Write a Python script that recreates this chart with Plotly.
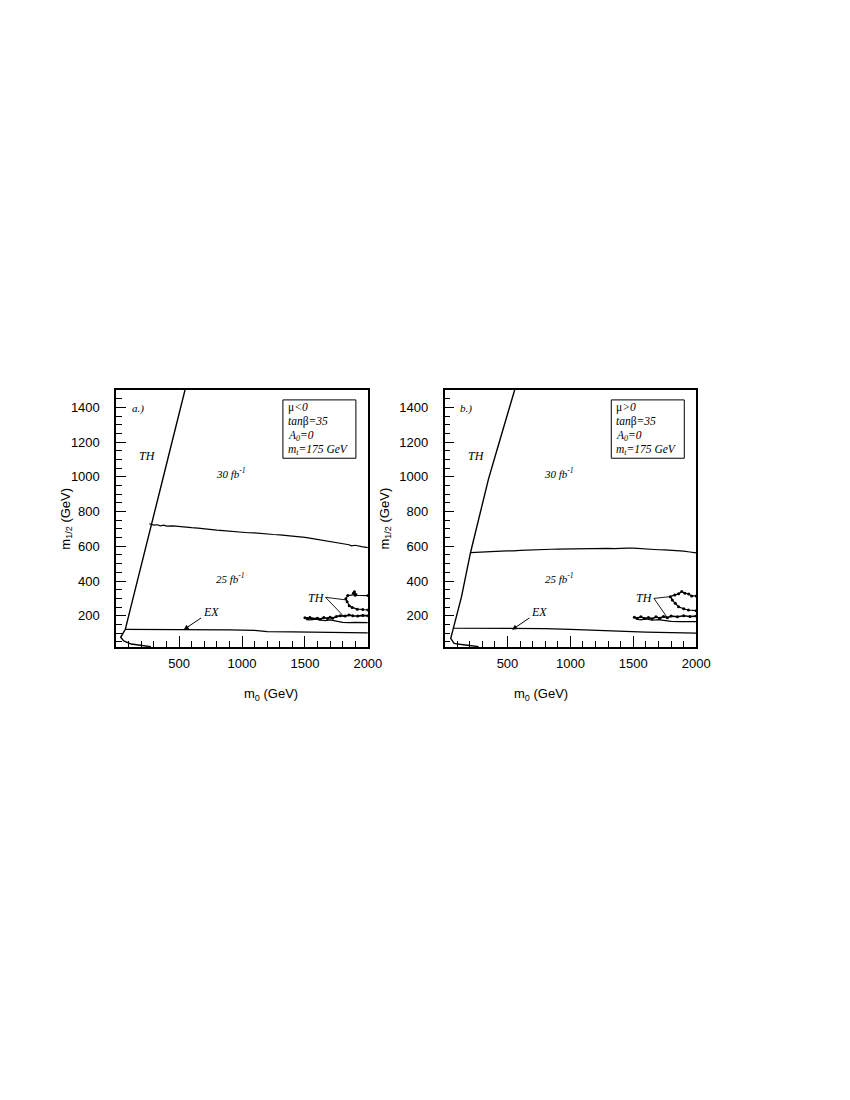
import plotly.graph_objects as go

# ---- panel a.) mu<0 ----
a_th_m0 = [276, 200, 120, 60, 36, 55, 73, 120, 180, 234, 292, 351, 423, 485, 547]
a_th_m12 = [22, 28, 37, 55, 76, 100, 122, 260, 430, 590, 760, 930, 1140, 1320, 1500]
a_ex_m0 = [73, 300, 600, 900, 1100, 1200, 1400, 1600, 1800, 2000]
a_ex_m12 = [122, 122, 121, 119, 116, 109, 107, 105, 103, 101]
a_lum_m0 = [263, 300, 330, 350, 380, 400, 450, 500, 550, 600, 650, 700, 750, 800, 850, 900,
            950, 1000, 1050, 1100, 1150, 1200, 1250, 1300, 1350, 1400, 1450, 1500, 1550,
            1600, 1650, 1700, 1750, 1800, 1850, 1870, 1900, 1950, 2000]
a_lum_m12 = [730, 722, 724, 718, 722, 716, 718, 713, 712, 707, 705, 700, 697, 693, 690, 686,
             683, 680, 678, 677, 673, 672, 668, 666, 663, 660, 656, 651, 646, 640, 634, 628,
             621, 614, 609, 603, 606, 598, 592]
a_up_m0 = [2000, 1900, 1885, 1893, 1905, 1840, 1825, 1835, 1852, 1875, 1916, 1960, 2000]
a_up_m12 = [316, 318, 330, 338, 322, 316, 298, 281, 258, 248, 238, 236, 233]
a_lo1_m0 = [1500, 1520, 1540, 1560, 1600, 1620, 1650, 1680, 1700, 1720, 1750, 1780, 1820,
            1850, 1880, 1920, 1960, 2000]
a_lo1_m12 = [188, 184, 190, 182, 186, 180, 190, 184, 192, 186, 196, 200, 198, 204, 200, 198,
             202, 200]
a_lo2_m0 = [1510, 1540, 1580, 1620, 1660, 1700, 1740, 1780, 1800, 1850, 1900, 2000]
a_lo2_m12 = [178, 176, 180, 174, 172, 176, 170, 168, 162, 160, 162, 160]
a_ptr_m0 = [1828, 1664, 1813]
a_ptr_m12 = [291, 306, 193]

# ---- panel b.) mu>0 ----
b_th_m0 = [271, 200, 120, 76, 49, 60, 70, 135, 206, 349, 427, 505, 557]
b_th_m12 = [22, 27, 36, 41, 70, 100, 128, 310, 563, 987, 1180, 1366, 1500]
b_ex_m0 = [70, 300, 600, 800, 1000, 1200, 1400, 1600, 1800, 2000]
b_ex_m12 = [128, 128, 127, 126, 122, 116, 110, 106, 103, 100]
b_lum_m0 = [206, 250, 300, 350, 400, 450, 500, 550, 600, 650, 700, 750, 800, 850, 900, 950,
            1000, 1050, 1100, 1150, 1200, 1250, 1300, 1350, 1400, 1450, 1500, 1550, 1600,
            1650, 1700, 1750, 1800, 1850, 1900, 1950, 2000]
b_lum_m12 = [563, 564, 566, 568, 570, 572, 574, 573, 577, 579, 578, 581, 582, 583, 584, 585,
             585, 586, 587, 588, 590, 588, 588, 587, 586, 589, 589, 586, 585, 583, 580, 579,
             578, 575, 572, 567, 562]
b_up_m0 = [2000, 1963, 1940, 1910, 1885, 1860, 1830, 1794, 1810, 1833, 1859, 1900, 1938, 2000]
b_up_m12 = [314, 314, 325, 330, 339, 326, 320, 310, 290, 272, 252, 240, 233, 229]
b_lo1_m0 = [1508, 1530, 1560, 1590, 1620, 1650, 1680, 1710, 1740, 1770, 1800, 1850, 1900,
            1950, 2000]
b_lo1_m12 = [192, 186, 194, 184, 190, 182, 194, 186, 196, 188, 198, 194, 200, 196, 198]
b_lo2_m0 = [1520, 1560, 1600, 1650, 1700, 1760, 1800, 1870, 1920, 2000]
b_lo2_m12 = [180, 176, 182, 174, 178, 172, 168, 166, 166, 166]
b_ptr_m0 = [1794, 1664, 1768]
b_ptr_m12 = [310, 300, 191]

x_ticks = [500, 1000, 1500, 2000]
y_ticks = [200, 400, 600, 800, 1000, 1200, 1400]

serif = "Liberation Serif"
sans = "Liberation Sans"

fig = go.Figure()

def line(x, y, ax, width=1.2, markers=False):
    fig.add_trace(go.Scatter(
        x=x, y=y, xaxis="x" + ax, yaxis="y" + ax,
        mode="lines+markers" if markers else "lines",
        line=dict(color="black", width=width),
        marker=dict(color="black", size=3),
        showlegend=False, hoverinfo="skip"))

panels = [
    ("", a_th_m0, a_th_m12, a_ex_m0, a_ex_m12, a_lum_m0, a_lum_m12, a_up_m0, a_up_m12,
     a_lo1_m0, a_lo1_m12, a_lo2_m0, a_lo2_m12, a_ptr_m0, a_ptr_m12, "a.)", "&lt;"),
    ("2", b_th_m0, b_th_m12, b_ex_m0, b_ex_m12, b_lum_m0, b_lum_m12, b_up_m0, b_up_m12,
     b_lo1_m0, b_lo1_m12, b_lo2_m0, b_lo2_m12, b_ptr_m0, b_ptr_m12, "b.)", "&gt;"),
]

annotations = []
shapes = []
for (ax, th_x, th_y, ex_x, ex_y, lum_x, lum_y, up_x, up_y, l1x, l1y, l2x, l2y,
     px, py, tag, sign) in panels:
    line(th_x, th_y, ax, 1.4)
    line(ex_x, ex_y, ax)
    line(lum_x, lum_y, ax)
    line(up_x, up_y, ax, 1.2, markers=True)
    line(l1x, l1y, ax, 1.6, markers=True)
    line(l2x, l2y, ax, 1.2)
    line(px, py, ax, 0.9)

    xr, yr = "x" + ax, "y" + ax
    def txt(x, y, t, size=12, xanchor="center"):
        annotations.append(dict(x=x, y=y, xref=xr, yref=yr, text=t, showarrow=False,
                                xanchor=xanchor, font=dict(family=serif, size=size, color="black")))
    txt(172, 1395, "<i>%s</i>" % tag, 11)
    txt(250, 1120, "<i>TH</i>", 12)
    txt(910, 1020, "<i>30 fb<sup>-1</sup></i>", 11)
    txt(910, 420, "<i>25 fb<sup>-1</sup></i>", 11)
    txt(1590, 302, "<i>TH</i>", 12)
    annotations.append(dict(x=537, y=120, xref=xr, yref=yr, ax=750, ay=224, axref=xr, ayref=yr,
                            text="<i>EX</i>", showarrow=True, arrowhead=2, arrowsize=1,
                            arrowwidth=1, arrowcolor="black",
                            font=dict(family=serif, size=12, color="black")))
    # parameter box
    shapes.append(dict(type="rect", xref=xr, yref=yr, x0=1325, x1=1905, y0=1107, y1=1443,
                       line=dict(color="black", width=1)))
    box_lines = ["μ<i>%s0</i>" % sign, "<i>tan</i>β<i>=35</i>", "<i>A<sub>0</sub>=0</i>",
                 "<i>m<sub>t</sub>=175 GeV</i>"]
    for t, yy in zip(box_lines, [1402, 1321, 1238, 1155]):
        txt(1350, yy, t, 11.5, xanchor="left")

axis_common = dict(showline=True, linecolor="black", linewidth=1.5, mirror=True,
                   ticks="inside", tickcolor="black", tickwidth=1.2, showgrid=False,
                   zeroline=False, tickfont=dict(family=sans, size=13, color="black"))
x_common = dict(axis_common, range=[0, 2000], tickvals=x_ticks, ticklen=11,
                ticklabelstandoff=4,
                minor=dict(dtick=100, tick0=0, ticklen=6, ticks="inside", tickcolor="black",
                           tickwidth=1.2, showgrid=False))
y_common = dict(axis_common, range=[20, 1500], tickvals=y_ticks, ticklen=10,
                ticklabelstandoff=12,
                minor=dict(dtick=50, tick0=0, ticklen=6, ticks="inside", tickcolor="black",
                           tickwidth=1.2, showgrid=False))

# page has an 8px body margin: figure is shrunk so it fits and positions are page px - 8
OFF = 8
W, H = 850 - 2 * OFF, 1100 - 2 * OFF

def fx(p):
    return (p - OFF) / W

def fy(p):
    return 1 - (p - OFF) / H

y_dom = [fy(647), fy(390)]
fig.update_layout(
    width=W, height=H, margin=dict(l=0, r=0, t=0, b=0),
    paper_bgcolor="white", plot_bgcolor="white",
    xaxis=dict(x_common, domain=[fx(118), fx(374)], anchor="y"),
    yaxis=dict(y_common, domain=y_dom, anchor="x"),
    xaxis2=dict(x_common, domain=[fx(452), fx(708)], anchor="y2"),
    yaxis2=dict(y_common, domain=y_dom, anchor="x2"),
    shapes=shapes,
)

# axis titles
for cx, ylab_x in [(246, 56), (580, 391)]:
    annotations.append(dict(x=fx(cx), y=fy(694), xref="paper", yref="paper",
                            text="m<sub>0</sub> (GeV)", showarrow=False,
                            font=dict(family=sans, size=13, color="black")))
    annotations.append(dict(x=fx(ylab_x), y=fy(519), xref="paper", yref="paper",
                            text="m<sub>1/2</sub> (GeV)", showarrow=False, textangle=-90,
                            font=dict(family=sans, size=13, color="black")))

fig.update_layout(annotations=annotations)
fig.write_html("out.html")
